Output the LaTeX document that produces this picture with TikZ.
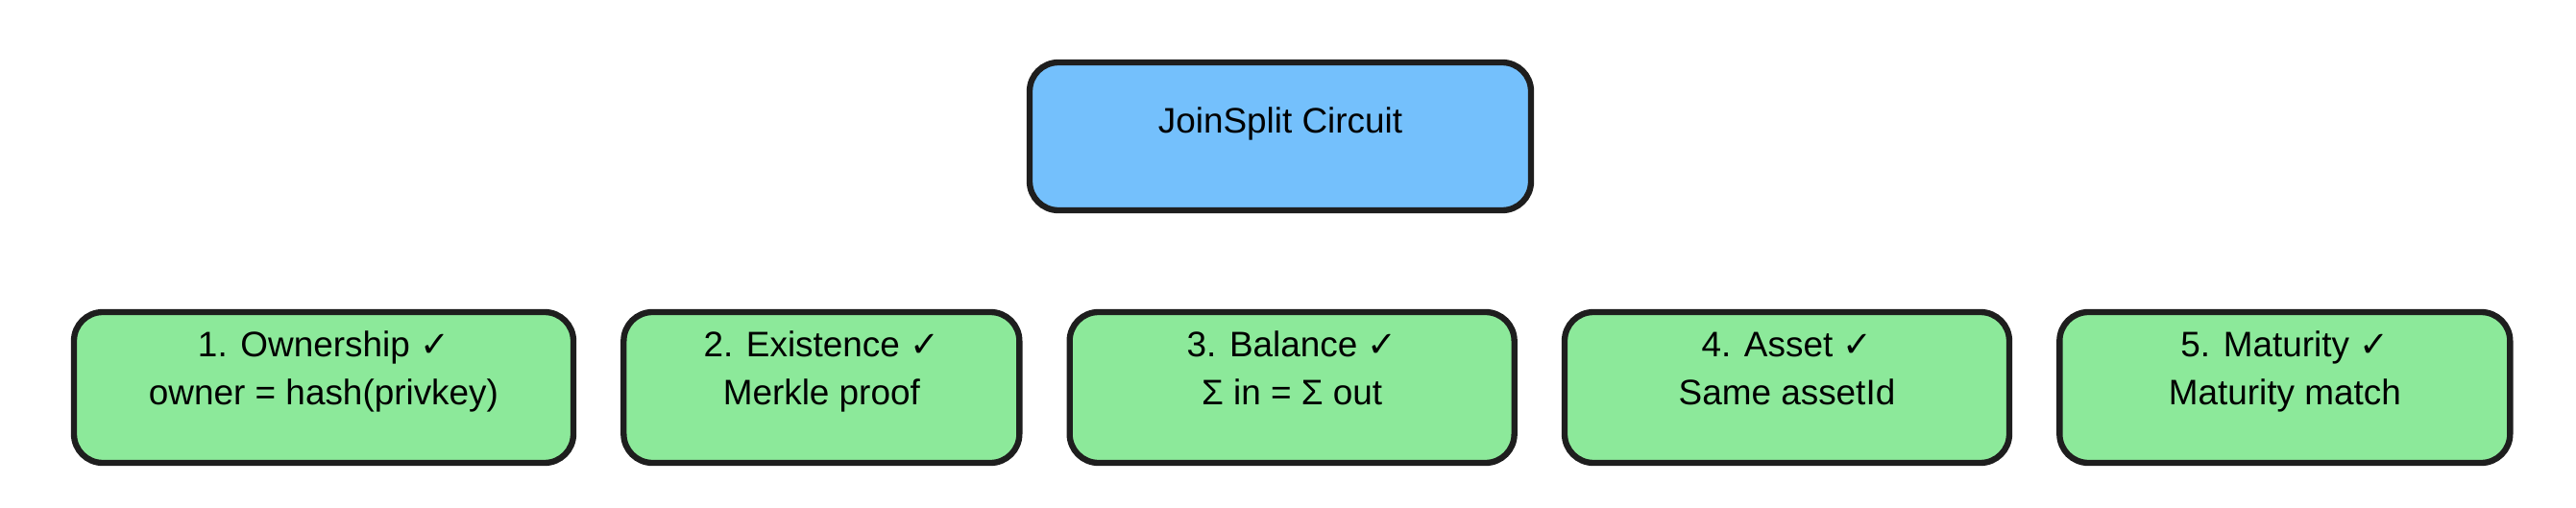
\documentclass[tikz,border=0pt]{standalone}
\usepackage{fontspec}
\setmainfont{Liberation Sans}
\newfontfamily\symfont{DejaVu Sans}
\usetikzlibrary{positioning}
\definecolor{circblue}{HTML}{74C0FC}
\definecolor{checkgreen}{HTML}{8CE99A}
\definecolor{inkblack}{HTML}{1E1E1E}
\newcommand{\ok}{{\symfont ✓}}

\begin{document}
\begin{tikzpicture}[
        box/.style={draw=inkblack, line width=1.8pt, rounded corners=0.3cm, align=center,
            font=\fontsize{10.5}{14.2}\selectfont, inner sep=0pt, text depth=0.4cm},
        circ/.style={box, fill=circblue, minimum width=5.22cm, minimum height=1.54cm, text depth=0.33cm},
        test/.style={box, fill=checkgreen, minimum height=1.57cm}
    ]
        \useasboundingbox[fill=white] (0,0) rectangle (26.82,5.28);
        \node[circ] (circuit) at (13.33,3.86) {JoinSplit Circuit};
        % the five checks
        \node[test, minimum width=5.20cm] (own) at (3.37,1.245) {1. Ownership \ok\\owner = hash(privkey)};
        \node[test, minimum width=4.12cm, right=0.46cm of own] (exist) {2. Existence \ok\\Merkle proof};
        \node[test, minimum width=4.63cm, right=0.46cm of exist] (bal) {3. Balance \ok\\Σ in = Σ out};
        \node[test, minimum width=4.63cm, right=0.46cm of bal] (asset) {4. Asset \ok\\Same assetId};
        \node[test, minimum width=4.69cm, right=0.46cm of asset] (mat) {5. Maturity \ok\\Maturity match};
    \end{tikzpicture}
\end{document}
